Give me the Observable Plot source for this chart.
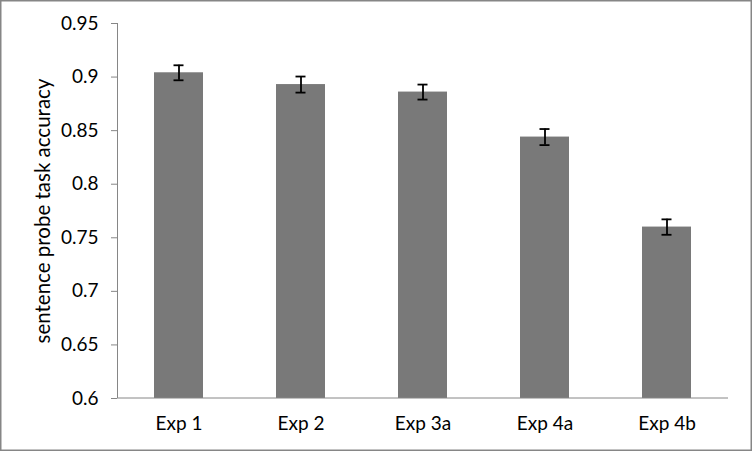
<!DOCTYPE html>
<html>
<head>
<meta charset="utf-8">
<script src="https://cdn.jsdelivr.net/npm/d3@7"></script>
<script src="https://cdn.jsdelivr.net/npm/@observablehq/plot@0.6"></script>
<style>
  body { margin: 0; background: #fff; }
</style>
</head>
<body>
<div id="chart"></div>
<script>
const categories = ["Exp 1", "Exp 2", "Exp 3a", "Exp 4a", "Exp 4b"];
const accuracy = [0.904, 0.893, 0.886, 0.844, 0.760];
const errors = [0.007, 0.0075, 0.007, 0.0075, 0.0072];
const yTicks = [0.6, 0.65, 0.7, 0.75, 0.8, 0.85, 0.9, 0.95];
const yLabel = "sentence probe task accuracy";

const data = categories.map((c, i) => ({cat: c, v: accuracy[i], e: errors[i]}));
const axisGray = "#868686";
const font = "Lato, 'Open Sans', sans-serif";
const ns = "http://www.w3.org/2000/svg";

// axis lines and band-edge ticks (Excel style), computed from the scales
function axesLines(index, scales, values, dims) {
  const g = document.createElementNS(ns, "g");
  const x = scales.x;
  const step = x.step;
  const y0 = scales.y(0.6);
  const y1 = scales.y(0.95);
  const line = (a, b, c, d) => {
    const l = document.createElementNS(ns, "line");
    l.setAttribute("x1", a); l.setAttribute("y1", b);
    l.setAttribute("x2", c); l.setAttribute("y2", d);
    l.setAttribute("stroke", axisGray);
    l.setAttribute("stroke-width", 1);
    g.appendChild(l);
  };
  const xl = dims.marginLeft + 0.5;
  line(xl, y1, xl, y0);
  line(dims.marginLeft, y0, dims.width - dims.marginRight, y0);
  const edges = [];
  categories.forEach((c, i) => {
    const left = x(c) - (step - x.bandwidth) / 2;
    edges.push(left);
    if (i === categories.length - 1) edges.push(left + step);
  });
  for (const ex of edges) line(ex, y0, ex, y0 + 6);
  return g;
}

function border(index, scales, values, dims) {
  const r = document.createElementNS(ns, "rect");
  r.setAttribute("x", 0.75); r.setAttribute("y", 0.75);
  r.setAttribute("width", dims.width - 1.5); r.setAttribute("height", dims.height - 1.5);
  r.setAttribute("fill", "none");
  r.setAttribute("stroke", axisGray);
  r.setAttribute("stroke-width", 1.5);
  return r;
}

const chart = Plot.plot({
  width: 752,
  height: 451,
  marginLeft: 117,
  marginRight: 24,
  marginTop: 23,
  marginBottom: 53,
  style: {fontFamily: font, fontSize: "19px", color: "#000", background: "#fff"},
  x: {domain: categories, paddingInner: 0.6, paddingOuter: 0.3},
  y: {domain: [0.6, 0.95]},
  marks: [
    Plot.barY(data, {x: "cat", y1: 0.6, y2: "v", fill: "#797979"}),
    Plot.ruleX(data, {x: "cat", y1: d => d.v - d.e, y2: d => d.v + d.e, stroke: "#000", strokeWidth: 1.8}),
    Plot.tickY(data, {x: "cat", y: d => d.v - d.e, stroke: "#000", strokeWidth: 1.8, insetLeft: 19.5, insetRight: 19.5}),
    Plot.tickY(data, {x: "cat", y: d => d.v + d.e, stroke: "#000", strokeWidth: 1.8, insetLeft: 19.5, insetRight: 19.5}),
    Plot.axisY({ticks: yTicks, tickFormat: d => String(+d.toFixed(2)), tickSize: 6, tickPadding: 13,
      stroke: axisGray, fill: "#000", fontSize: 19, label: null}),
    Plot.axisY({ticks: [], tickSize: 0, fill: "#000", fontSize: 20.5,
      label: yLabel, labelAnchor: "center", labelArrow: "none", labelOffset: 82}),
    Plot.axisX({tickSize: 0, tickPadding: 18, fill: "#000", fontSize: 19, label: null}),
    axesLines,
    border
  ]
});
document.getElementById("chart").appendChild(chart);
</script>
</body>
</html>
